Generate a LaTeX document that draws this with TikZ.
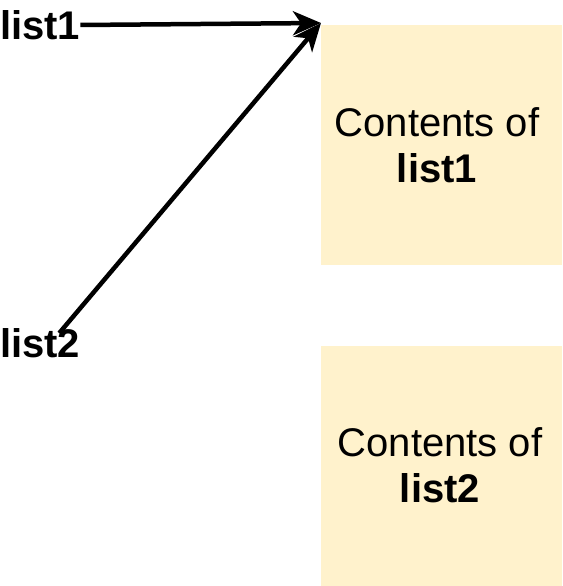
\documentclass[tikz,border=0pt]{standalone}
\usepackage{fontspec}
\setmainfont{Liberation Sans}
\usetikzlibrary{arrows.meta}
\definecolor{boxfill}{HTML}{FFF2CC}
\begin{document}
\begin{tikzpicture}[x=1pt,y=-1pt,
  lbl/.style={font=\fontsize{40}{46}\selectfont\bfseries, inner sep=0pt},
  content/.style={fill=boxfill, minimum width=241pt, minimum height=240pt, inner sep=0pt},
  ctext/.style={align=center, inner sep=0pt, font=\fontsize{40}{46}\selectfont},
  conn/.style={line width=4.5pt, -{Stealth[length=28pt,width=24pt,inset=8pt]}}]
\useasboundingbox (0,0) rectangle (562,586);
\node[content] (b1) at (441.5,145) {};
\node[content] (b2) at (441.5,465.5) {};
\node[ctext] (t1) at (437,145) {Contents of\\\textbf{list1}};
\node[ctext] (t2) at (440,465.5) {Contents of\\\textbf{list2}};
\node[lbl, anchor=west] (l1) at (0,25) {list1};
\node[lbl, anchor=west] (l2) at (0,343) {list2};
\coordinate (c) at (321,23);
\draw[conn] (l1.east) -- (c);
\draw[conn] ([xshift=19pt,yshift=-5pt]l2.north) -- (c);
\end{tikzpicture}
\end{document}
